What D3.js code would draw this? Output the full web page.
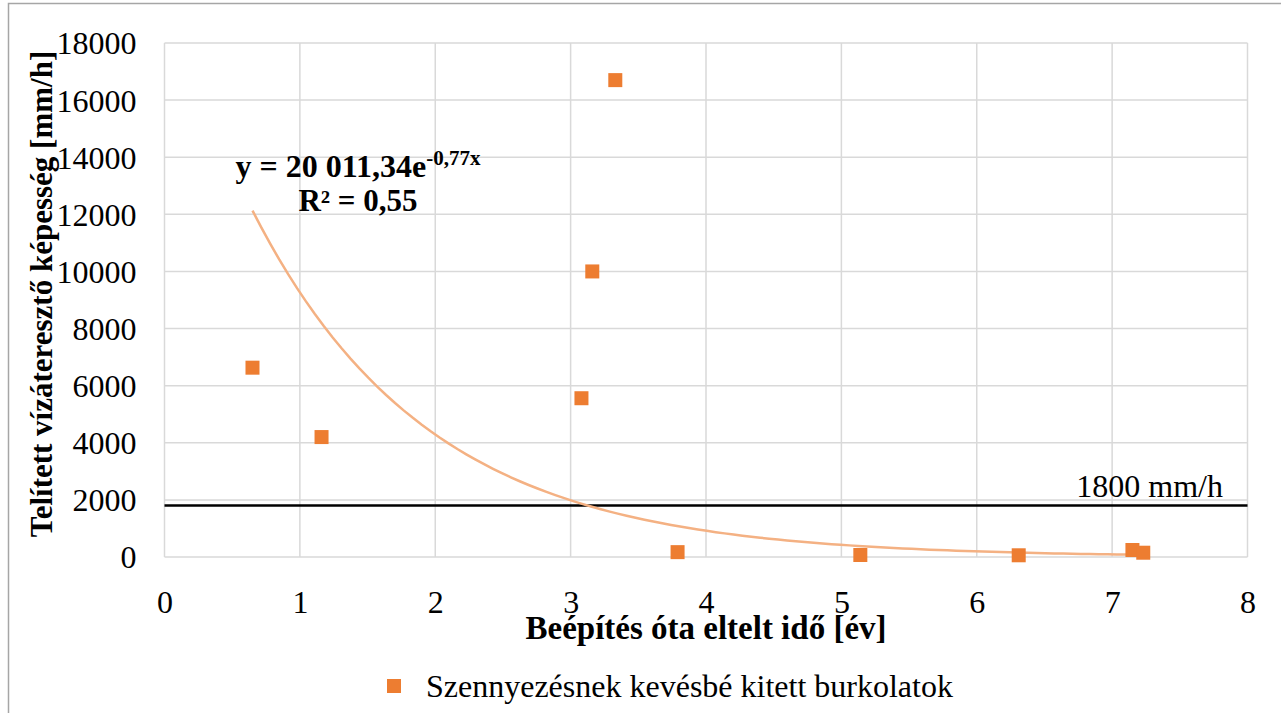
<!DOCTYPE html>
<html>
<head>
<meta charset="utf-8">
<script src="https://cdn.jsdelivr.net/npm/d3@7"></script>
<style>
  body { margin: 0; background: #fff; }
  svg { display: block; }
  svg text { font-family: "Liberation Serif", "Times New Roman", serif; fill: #000; }
</style>
</head>
<body>
<div id="chart"></div>
<script>
const years = [0.65, 1.16, 3.08, 3.16, 3.33, 3.79, 5.14, 6.31, 7.15, 7.23]
const rates = [6630, 4200, 5560, 10000, 16700, 170, 70, 60, 245, 150]
const xTicks = [0, 1, 2, 3, 4, 5, 6, 7, 8]
const yTicks = [0, 2000, 4000, 6000, 8000, 10000, 12000, 14000, 16000, 18000]
const limitValue = 1800
const limitLabel = "1800 mm/h"
const trendA = 20011.34
const trendB = -0.77
const seriesName = "Szennyezésnek kevésbé kitett burkolatok"
const xTitle = "Beépítés óta eltelt idő [év]"
const yTitle = "Telített vízáteresztő képesség [mm/h]"

const params = {
  fullWidth: 1281, fullHeight: 713,
  left: 164.5, right: 1247.5, top: 43, bottom: 557
}

const svg = d3.select("#chart").append("svg")
  .attr("width", params.fullWidth)
  .attr("height", params.fullHeight)

// chart border (only top and left visible in the picture)
svg.append("rect")
  .attr("x", 8.5).attr("y", 3.5)
  .attr("width", params.fullWidth).attr("height", params.fullHeight)
  .attr("fill", "none").attr("stroke", "#a6a6a6").attr("stroke-width", 1.5)

const x = d3.scaleLinear().domain([0, 8]).range([params.left, params.right])
const y = d3.scaleLinear().domain([0, 18000]).range([params.bottom, params.top])

// grid
svg.append("g").selectAll("line").data(yTicks).join("line")
  .attr("x1", params.left).attr("x2", params.right)
  .attr("y1", d => y(d)).attr("y2", d => y(d))
  .attr("stroke", "#d9d9d9").attr("stroke-width", 1.5)
svg.append("g").selectAll("line").data(xTicks).join("line")
  .attr("x1", d => x(d)).attr("x2", d => x(d))
  .attr("y1", params.top).attr("y2", params.bottom)
  .attr("stroke", "#d9d9d9").attr("stroke-width", 1.5)

// axes (labels only)
const yAxis = svg.append("g")
  .attr("transform", `translate(${params.left - 28},0)`)
  .call(d3.axisLeft(y).tickValues(yTicks).tickSize(0).tickFormat(d => d))
const xAxis = svg.append("g")
  .attr("transform", `translate(0,${params.bottom + 34})`)
  .call(d3.axisBottom(x).tickValues(xTicks).tickSize(0).tickFormat(d => d))
;[xAxis, yAxis].forEach(a => {
  a.attr("font-family", null).attr("font-size", null)
  a.select(".domain").remove()
  a.selectAll("text").attr("font-size", "32px")
})
yAxis.selectAll("text").attr("x", 0).attr("dy", "0.34em")
xAxis.selectAll("text").attr("y", 0).attr("dy", "0.68em")

// limit line
svg.append("line")
  .attr("x1", params.left).attr("x2", params.right)
  .attr("y1", y(limitValue)).attr("y2", y(limitValue))
  .attr("stroke", "#000").attr("stroke-width", 2.5)
svg.append("text")
  .attr("x", 1223).attr("y", y(limitValue) - 9)
  .attr("text-anchor", "end").attr("font-size", "32px")
  .text(limitLabel)

// exponential trendline from the fitted equation
const xMin = d3.min(years), xMax = d3.max(years)
const trendX = d3.range(0, 101).map(i => xMin + (xMax - xMin) * i / 100)
svg.append("path")
  .datum(trendX)
  .attr("fill", "none").attr("stroke", "#f4b183").attr("stroke-width", 2.5)
  .attr("d", d3.line().x(d => x(d)).y(d => y(trendA * Math.exp(trendB * d))))

// points
const pts = years.map((d, i) => ({x: d, y: rates[i]}))
svg.append("g").selectAll("rect").data(pts).join("rect")
  .attr("x", d => x(d.x) - 7).attr("y", d => y(d.y) - 7)
  .attr("width", 14).attr("height", 14)
  .attr("fill", "#ed7d31")

// equation label
const eq = svg.append("text")
  .attr("x", 358).attr("y", 177)
  .attr("text-anchor", "middle").attr("font-size", "32px").attr("font-weight", "bold")
eq.append("tspan").text("y = 20 011,34e")
eq.append("tspan").attr("font-size", "21px").attr("dy", "-12").text("-0,77x")
svg.append("text")
  .attr("x", 358).attr("y", 211)
  .attr("text-anchor", "middle").attr("font-size", "31px").attr("font-weight", "bold")
  .text("R² = 0,55")

// axis titles
svg.append("text")
  .attr("x", (params.left + params.right) / 2).attr("y", 639)
  .attr("text-anchor", "middle").attr("font-size", "33px").attr("font-weight", "bold")
  .text(xTitle)
svg.append("text")
  .attr("transform", `translate(52,${(params.top + params.bottom) / 2 - 6}) rotate(-90)`)
  .attr("text-anchor", "middle").attr("font-size", "31px").attr("font-weight", "bold")
  .text(yTitle)

// legend
svg.append("rect")
  .attr("x", 387).attr("y", 679).attr("width", 14).attr("height", 14)
  .attr("fill", "#ed7d31")
svg.append("text")
  .attr("x", 426).attr("y", 697).attr("font-size", "32px")
  .text(seriesName)
</script>
</body>
</html>
